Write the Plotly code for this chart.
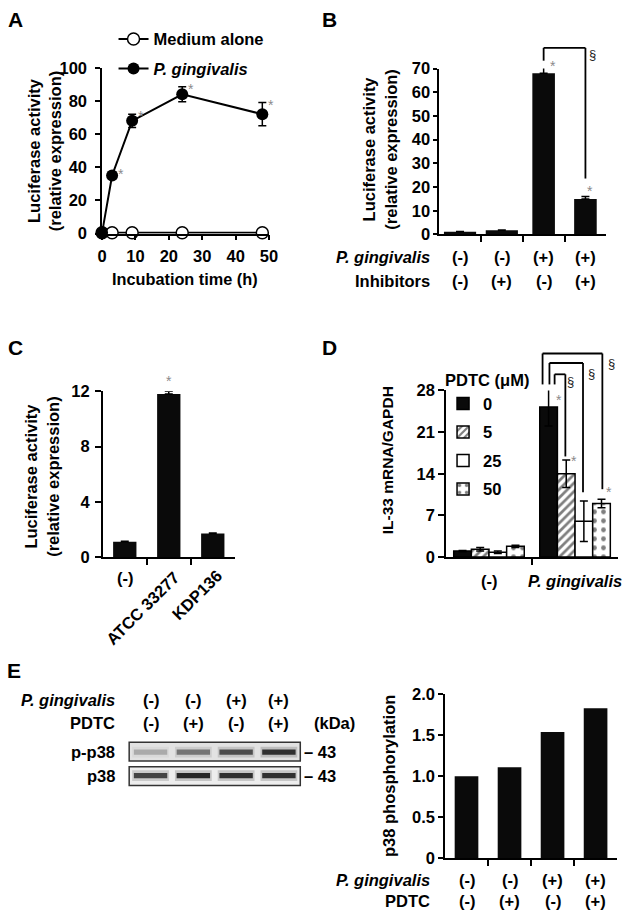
import plotly.graph_objects as go

W, H = 630, 919
FONT = "Liberation Sans, Arial, Helvetica, sans-serif"

# ---------------- data ----------------
# Panel A
time_h = [0, 3, 9, 24, 48]
pg_activity = [0.5, 35, 68, 84, 72]
pg_sd = [0.5, 2.0, 4.0, 4.5, 7.0]
medium_activity = [0.5, 0.5, 0.5, 0.5, 0.5]
a_star = [False, True, True, True, True]

# Panel B
b_pg = ["(-)", "(-)", "(+)", "(+)"]
b_inhib = ["(-)", "(+)", "(-)", "(+)"]
b_activity = [1.2, 1.8, 68.0, 15.0]
b_sd = [0.1, 0.1, 4.0, 1.0]
b_star = [False, False, True, True]

# Panel C
c_strains = ["(-)", "ATCC 33277", "KDP136"]
c_activity = [1.1, 11.8, 1.7]
c_sd = [0.05, 0.2, 0.05]
c_star = [False, True, False]

# Panel D
d_groups = ["(-)", "P. gingivalis"]
pdtc_doses = ["0", "5", "25", "50"]
d_il33_0 = [1.0, 25.2]
d_il33_5 = [1.3, 14.0]
d_il33_25 = [0.8, 6.0]
d_il33_50 = [1.8, 9.0]
d_sd_0 = [0.1, 3.2]
d_sd_5 = [0.3, 2.3]
d_sd_25 = [0.2, 3.4]
d_sd_50 = [0.2, 0.7]

# Panel E
e_pg = ["(-)", "(-)", "(+)", "(+)"]
e_pdtc = ["(-)", "(+)", "(-)", "(+)"]
e_p38_phos = [1.0, 1.11, 1.54, 1.83]
blot_pp38 = [0.25, 0.5, 0.72, 0.88]
blot_p38 = [0.78, 0.95, 0.88, 0.88]

# ---------------- layout helpers (positions in window pixels) ----------------
def PX(px):
    return px / W

def PY(py):
    return 1 - py / H

XMAX = W - 0.5

def make_ax(p0, p1, r0, r1, top, bottom, yr):
    if p1 > XMAX:
        r1 = r0 + (r1 - r0) * (XMAX - p0) / (p1 - p0)
        p1 = XMAX
    return dict(x=[PX(p0), PX(p1)], y=[PY(bottom), PY(top)], xr=[r0, r1], yr=yr)

AX = {
    "A": make_ax(99.3, 270, 0, 50, 60, 229, [0, 100]),
    "B": make_ax(444, 615, -0.5, 3.5, 60.7, 230, [0, 70]),
    "C": make_ax(100, 235, -0.5, 2.5, 390, 559, [0, 12]),
    "D": make_ax(451, 627, -0.5, 1.5, 389, 559, [0, 28]),
    "E": make_ax(450, 626, -0.5, 3.5, 699, 866, [0, 2]),
    "BL": make_ax(127, 302, -0.5, 3.5, 748, 792, [0, 2]),
}

def to_paper(p, xv, yv):
    a = AX[p]
    fx = (xv - a["xr"][0]) / (a["xr"][1] - a["xr"][0])
    fy = (yv - a["yr"][0]) / (a["yr"][1] - a["yr"][0])
    return (a["x"][0] + fx * (a["x"][1] - a["x"][0]),
            a["y"][0] + fy * (a["y"][1] - a["y"][0]))

annotations = []
shapes = []

def txt(text, x, y, size=16.5, xanchor="center", yanchor="middle", angle=0,
        color="black", xref="paper", family=FONT, xshift=0, yshift=0):
    if xref == "paper":
        x = PX(x)
    annotations.append(dict(text=text, x=x, y=PY(y), xref=xref, yref="paper",
                            showarrow=False, xanchor=xanchor, yanchor=yanchor,
                            textangle=angle, xshift=xshift, yshift=yshift,
                            font=dict(family=family, size=size, color=color)))

def star(p, xv, yv, dx, dy, sym="*", color="#8a8a8a", size=14):
    x, y = to_paper(p, xv, yv)
    annotations.append(dict(text=sym, x=x, y=y, xref="paper", yref="paper",
                            showarrow=False, xanchor="center", yanchor="middle",
                            xshift=dx, yshift=dy,
                            font=dict(family=FONT, size=size, color=color)))

def bracket(p, xl, xr, top, lb, rb, width=1.8):
    x0, yt = to_paper(p, xl, top)
    x1, _ = to_paper(p, xr, top)
    _, y0 = to_paper(p, xl, lb)
    _, y1 = to_paper(p, xr, rb)
    for (a, b, c, d) in [(x0, y0, x0, yt), (x0, yt, x1, yt), (x1, yt, x1, y1)]:
        shapes.append(dict(type="line", xref="paper", yref="paper",
                           x0=a, y0=b, x1=c, y1=d,
                           line=dict(color="black", width=width)))

fig = go.Figure()
BLACK = "#0a0a0a"
ERR = dict(color="black", thickness=1.5, width=4)

# ---------------- Panel A ----------------
fig.add_trace(go.Scatter(
    x=time_h, y=medium_activity, mode="lines+markers", name="<b>Medium alone</b>",
    line=dict(color="black", width=2),
    marker=dict(symbol="circle", size=12, color="white", line=dict(color="black", width=1.5)),
    xaxis="x", yaxis="y", cliponaxis=False, legend="legend", legendgroup="a1"))
fig.add_trace(go.Scatter(
    x=time_h, y=pg_activity, mode="lines+markers", name="<b><i>P. gingivalis</i></b>",
    line=dict(color="black", width=2),
    marker=dict(symbol="circle", size=12, color="black"),
    error_y=dict(type="data", array=pg_sd, **ERR),
    xaxis="x", yaxis="y", cliponaxis=False, legend="legend", legendgroup="a2"))
for t, v, e, s in zip(time_h, pg_activity, pg_sd, a_star):
    if s:
        star("A", t, v + e, 9, -2)

# ---------------- Panel B ----------------
b_x = list(range(len(b_activity)))
fig.add_trace(go.Bar(
    x=b_x, y=b_activity, width=[0.77, 0.77, 0.54, 0.54], marker=dict(color=BLACK, line=dict(width=0)),
    error_y=dict(type="data", symmetric=False, array=b_sd, arrayminus=[0] * len(b_sd), **ERR),
    xaxis="x2", yaxis="y2", showlegend=False, cliponaxis=False))
for i, (v, e, s) in enumerate(zip(b_activity, b_sd, b_star)):
    if s:
        star("B", i, v + e, 9 if i == 2 else 5, -2 if i == 2 else 6)
bracket("B", 2, 3, 78.7, 73.3, 23.6)
star("B", 3, 75.8, 7, 0, sym="§", color="#222", size=13)
for i in b_x:
    txt("<b>%s</b>" % b_pg[i], i, 253, xref="x2")
    txt("<b>%s</b>" % b_inhib[i], i, 277, xref="x2")
txt("<b><i>P. gingivalis</i></b>", 437, 253, xanchor="right")
txt("<b>Inhibitors</b>", 437, 277, xanchor="right")

# ---------------- Panel C ----------------
c_x = list(range(len(c_activity)))
fig.add_trace(go.Bar(
    x=c_x, y=c_activity, width=0.53, marker=dict(color=BLACK, line=dict(width=0)),
    error_y=dict(type="data", symmetric=False, array=c_sd, arrayminus=[0] * len(c_sd), **ERR),
    xaxis="x3", yaxis="y3", showlegend=False, cliponaxis=False))
for i, (v, e, s) in enumerate(zip(c_activity, c_sd, c_star)):
    if s:
        star("C", i, v + e, 0, 10)
c_lab_shift = [(0, 580, 0), (-26, 611, -45), (-16, 598, -45)]
for i, name in enumerate(c_strains):
    dx, py, ang = c_lab_shift[i]
    txt("<b>%s</b>" % name, i, py, xref="x3", xshift=dx, angle=ang)

# ---------------- Panel D ----------------
d_series = [d_il33_0, d_il33_5, d_il33_25, d_il33_50]
d_sds = [d_sd_0, d_sd_5, d_sd_25, d_sd_50]
d_styles = [
    dict(color=BLACK),
    dict(color="white", pattern=dict(shape="/", fgcolor="black", bgcolor="white", size=6, solidity=0.45)),
    dict(color="white"),
    dict(color="white", pattern=dict(shape=".", fgcolor="black", bgcolor="white", size=9, solidity=0.22)),
]
bw = 0.205
d_x = list(range(len(d_groups)))
for k, (vals, sds, st) in enumerate(zip(d_series, d_sds, d_styles)):
    mk = dict(st)
    mk["line"] = dict(color="black", width=1.5)
    fig.add_trace(go.Bar(
        x=d_x, y=vals, width=bw, offset=-2 * bw + k * bw, marker=mk,
        name="<b>%s</b>" % pdtc_doses[k],
        error_y=dict(type="data", array=sds, **ERR),
        xaxis="x4", yaxis="y4", legend="legend2", legendgroup="d%d" % k, cliponaxis=False))

def dcen(k):
    return 1 - 2 * bw + k * bw + bw / 2

star("D", dcen(0), d_il33_0[1], 10, 7)
star("D", dcen(1), d_il33_5[1] + d_sd_5[1], 8, -1)
star("D", dcen(3), d_il33_50[1] + d_sd_50[1], 7, 7)
bracket("D", dcen(0) + 0.07, dcen(1) - 0.01, 30.7, 29.0, 16.9)
bracket("D", dcen(0) + 0.01, dcen(2) - 0.01, 32.6, 29.0, 10.9)
bracket("D", dcen(0) - 0.07, dcen(3) + 0.01, 34.2, 29.0, 11.4)
star("D", dcen(1) - 0.01, 29.5, 5, 0, sym="§", color="#222", size=13)
star("D", dcen(2) - 0.01, 30.9, 8, 0, sym="§", color="#222", size=13)
star("D", dcen(3) + 0.01, 32.5, 9, 0, sym="§", color="#222", size=13)
txt("<b>(-)</b>", 0, 583, xref="x4")
txt("<b><i>P. gingivalis</i></b>", 1, 583, xref="x4")

# ---------------- Panel E (chart) ----------------
e_x = list(range(len(e_p38_phos)))
fig.add_trace(go.Bar(
    x=e_x, y=e_p38_phos, width=0.55, marker=dict(color=BLACK, line=dict(width=0)),
    xaxis="x5", yaxis="y5", showlegend=False))
for i in e_x:
    txt("<b>%s</b>" % e_pg[i], i, 888, xref="x5")
    txt("<b>%s</b>" % e_pdtc[i], i, 910, xref="x5")
txt("<b><i>P. gingivalis</i></b>", 437, 888, xanchor="right")
txt("<b>PDTC</b>", 437, 910, xanchor="right")

# ---------------- Panel E (blot) ----------------
bl_x = list(range(len(blot_pp38)))
row_c = {"pp38": 1.545, "p38": 0.455}
for key, inten in [("pp38", blot_pp38), ("p38", blot_p38)]:
    halo = 0.5
    core = 0.24
    fig.add_trace(go.Bar(
        x=bl_x, y=[halo] * len(inten), base=[row_c[key] - halo / 2] * len(inten),
        width=0.86, marker=dict(color=["rgba(0,0,0,%.2f)" % (0.18 * v) for v in inten], line=dict(width=0)),
        offsetgroup="blot", xaxis="x6", yaxis="y6", showlegend=False, hoverinfo="skip"))
    fig.add_trace(go.Bar(
        x=bl_x, y=[core] * len(inten), base=[row_c[key] - core / 2] * len(inten),
        width=0.78, marker=dict(color=["rgba(20,20,20,%.2f)" % (0.95 * v) for v in inten], line=dict(width=0)),
        offsetgroup="blot", xaxis="x6", yaxis="y6", showlegend=False, hoverinfo="skip"))
shapes.insert(0, dict(type="rect", xref="paper", yref="paper", layer="below",
                      x0=PX(127), x1=PX(302), y0=PY(767), y1=PY(748),
                      fillcolor="#e2e2e2", line=dict(color="#333", width=1.5)))
shapes.insert(0, dict(type="rect", xref="paper", yref="paper", layer="below",
                      x0=PX(127), x1=PX(302), y0=PY(792), y1=PY(773),
                      fillcolor="#ededed", line=dict(color="#333", width=1.5)))
for i in bl_x:
    txt("<b>%s</b>" % e_pg[i], i, 705, xref="x6")
    txt("<b>%s</b>" % e_pdtc[i], i, 728, xref="x6")
txt("<b><i>P. gingivalis</i></b>", 115, 705, xanchor="right")
txt("<b>PDTC</b>", 115, 728, xanchor="right")
txt("<b>(kDa)</b>", 337, 728)
txt("<b>p-p38</b>", 115, 758, xanchor="right")
txt("<b>p38</b>", 115, 782, xanchor="right")
txt("<b>– 43</b>", 304, 758, xanchor="left")
txt("<b>– 43</b>", 304, 782, xanchor="left")

# ---------------- titles & panel letters ----------------
txt("<b>Luciferase activity<br>(relative expression)</b>", 40, 145, angle=-90, size=16.5)
txt("<b>Incubation time (h)</b>", 184, 275, size=16.3)
txt("<b>Luciferase activity<br>(relative expression)</b>", 383, 143, angle=-90, size=16.5)
txt("<b>Luciferase activity<br>(relative expression)</b>", 38, 477, angle=-90, size=16.5)
txt("<b>IL-33 mRNA/GAPDH</b>", 392, 460, angle=-90, size=15.5)
txt("<b>p38 phosphorylation</b>", 392, 782, angle=-90, size=16.5)
for letter, x, y in [("A", 1, 11), ("B", 322, 11), ("C", 1, 345), ("D", 322, 345), ("E", 0, 675)]:
    txt("<b>%s</b>" % letter, x, y, size=21, xanchor="left")

# ---------------- axes ----------------
def axis_common(**kw):
    d = dict(showline=True, linecolor="black", linewidth=1.5, ticks="outside",
             ticklen=5, tickwidth=1.5, tickcolor="black", showgrid=False, zeroline=False,
             tickfont=dict(family=FONT, size=16.5, color="black", weight="bold"))
    d.update(kw)
    return d

layout_axes = dict(
    xaxis=axis_common(domain=AX["A"]["x"], range=AX["A"]["xr"], anchor="y",
                      tickvals=[0, 10, 20, 30, 40, 50], ticklabelstandoff=2),
    yaxis=axis_common(domain=AX["A"]["y"], range=AX["A"]["yr"], anchor="x",
                      tickvals=[0, 20, 40, 60, 80, 100], ticklabelstandoff=5),
    xaxis2=axis_common(domain=AX["B"]["x"], range=AX["B"]["xr"], anchor="y2",
                       tickvals=[0.5, 1.5, 2.5], showticklabels=False, ticklen=6),
    yaxis2=axis_common(domain=AX["B"]["y"], range=AX["B"]["yr"], anchor="x2",
                       tickvals=[0, 10, 20, 30, 40, 50, 60, 70], ticklen=4),
    xaxis3=axis_common(domain=AX["C"]["x"], range=AX["C"]["xr"], anchor="y3",
                       tickvals=[0.5, 1.5], showticklabels=False, ticklen=6),
    yaxis3=axis_common(domain=AX["C"]["y"], range=AX["C"]["yr"], anchor="x3",
                       tickvals=[0, 4, 8, 12], ticklen=6, ticklabelstandoff=2),
    xaxis4=axis_common(domain=AX["D"]["x"], range=AX["D"]["xr"], anchor="y4",
                       tickvals=[0.5], showticklabels=False, ticklen=6),
    yaxis4=axis_common(domain=AX["D"]["y"], range=AX["D"]["yr"], anchor="x4",
                       tickvals=[0, 7, 14, 21, 28], ticklen=6),
    xaxis5=axis_common(domain=AX["E"]["x"], range=AX["E"]["xr"], anchor="y5",
                       tickvals=[0.5, 1.5, 2.5], showticklabels=False, ticklen=6),
    yaxis5=axis_common(domain=AX["E"]["y"], range=AX["E"]["yr"], anchor="x5",
                       tickvals=[0, 0.5, 1, 1.5, 2], ticktext=["0", "0.5", "1.0", "1.5", "2.0"], ticklen=5),
    xaxis6=dict(domain=AX["BL"]["x"], range=AX["BL"]["xr"], anchor="y6", visible=False),
    yaxis6=dict(domain=AX["BL"]["y"], range=AX["BL"]["yr"], anchor="x6", visible=False),
)

fig.update_layout(
    width=W, height=H, autosize=False,
    margin=dict(l=0, r=0, t=0, b=0),
    paper_bgcolor="white", plot_bgcolor="rgba(0,0,0,0)",
    barmode="overlay",
    font=dict(family=FONT, size=16, color="black"),
    annotations=annotations, shapes=shapes,
    legend=dict(x=PX(111), y=PY(13), xanchor="left", yanchor="top",
                bgcolor="rgba(0,0,0,0)", itemwidth=30, tracegroupgap=5,
                font=dict(family=FONT, size=16.5, color="black")),
    legend2=dict(x=PX(448), y=PY(363), xanchor="left", yanchor="top",
                 bgcolor="rgba(0,0,0,0)", itemwidth=30, tracegroupgap=4,
                 title=dict(text="<b>PDTC (μM)</b>", font=dict(family=FONT, size=16.5)),
                 font=dict(family=FONT, size=16.5, color="black")),
    **layout_axes,
)

# remove the default page margin so the 630x919 figure fills the window
fix_page = ("var d=document.documentElement,b=document.body;"
            "d.style.margin='0';d.style.padding='0';"
            "b.style.margin='0';b.style.padding='0';b.style.overflow='hidden';")
fig.write_html("out.html", config={"displayModeBar": False}, post_script=fix_page)
